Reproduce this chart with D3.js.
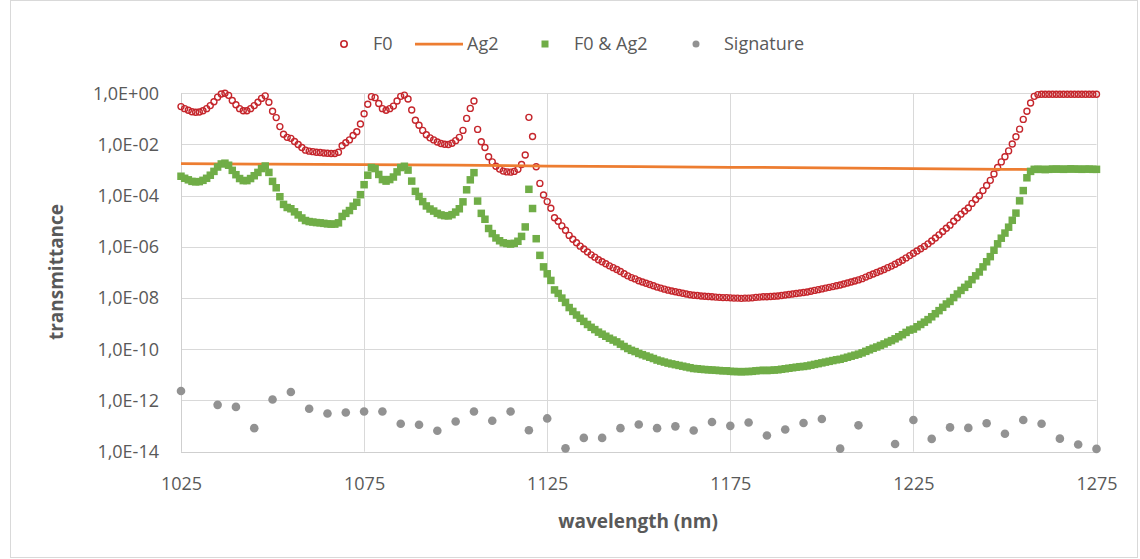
<!DOCTYPE html>
<html>
<head>
<meta charset="utf-8">
<script src="https://cdn.jsdelivr.net/npm/d3@7/dist/d3.min.js"></script>
<style>
  html, body { margin: 0; padding: 0; background: #ffffff; }
  svg { display: block; }
  text { font-family: "Open Sans", "Noto Sans", sans-serif; }
</style>
</head>
<body>
<svg id="chart" width="1140" height="559"></svg>
<script>
// ---------------- DATA ----------------
// wavelength grid of the F0 and F0 & Ag2 series: 1 nm steps, 1025..1275 nm
const wlStart = 1025;
const wlEnd = 1275;

// F0 transmittance, log10 values, one per nm from 1025 nm
const f0Log10 = [
  -0.52,-0.60,-0.66,-0.72,-0.74,-0.73,-0.68,-0.60,-0.48,-0.33,
  -0.15,-0.03, 0.00,-0.08,-0.28,-0.45,-0.60,-0.68,-0.68,-0.60,
  -0.48,-0.35,-0.20,-0.10,-0.35,-0.70,-0.95,-1.30,-1.60,-1.72,
  -1.76,-1.88,-2.00,-2.12,-2.22,-2.26,-2.28,-2.30,-2.31,-2.33,
  -2.34,-2.35,-2.35,-2.30,-2.05,-1.93,-1.82,-1.65,-1.50,-1.20,
  -0.80,-0.43,-0.13,-0.17,-0.40,-0.60,-0.66,-0.60,-0.50,-0.30,
  -0.12,-0.07,-0.22,-0.65,-1.05,-1.25,-1.45,-1.62,-1.74,-1.82,
  -1.90,-1.96,-1.99,-2.00,-1.95,-1.85,-1.72,-1.45,-0.98,-0.59,
  -0.30,-1.41,-1.89,-2.12,-2.48,-2.68,-2.85,-2.96,-3.04,-3.07,
  -3.08,-3.05,-2.97,-2.78,-2.41,-0.94,-1.69,-2.87,-3.52,-3.97,
  -4.23,-4.49,-4.86,-5.00,-5.18,-5.35,-5.55,-5.70,-5.84,-5.97,
  -6.08,-6.20,-6.31,-6.40,-6.50,-6.58,-6.66,-6.74,-6.81,-6.88,
  -6.96,-7.05,-7.13,-7.20,-7.25,-7.32,-7.37,-7.42,-7.47,-7.52,
  -7.57,-7.61,-7.65,-7.69,-7.72,-7.75,-7.78,-7.81,-7.84,-7.87,
  -7.89,-7.90,-7.92,-7.93,-7.94,-7.95,-7.96,-7.97,-7.98,-7.98,
  -7.99,-8.00,-8.00,-8.01,-8.00,-8.00,-7.99,-7.97,-7.96,-7.95,
  -7.95,-7.94,-7.93,-7.92,-7.90,-7.88,-7.86,-7.84,-7.82,-7.80,
  -7.78,-7.76,-7.73,-7.70,-7.67,-7.64,-7.61,-7.58,-7.55,-7.52,
  -7.49,-7.45,-7.41,-7.37,-7.33,-7.29,-7.24,-7.18,-7.12,-7.06,
  -7.00,-6.94,-6.88,-6.81,-6.75,-6.68,-6.60,-6.52,-6.43,-6.34,
  -6.25,-6.16,-6.07,-5.98,-5.88,-5.77,-5.65,-5.53,-5.40,-5.27,
  -5.15,-5.00,-4.86,-4.72,-4.60,-4.48,-4.30,-4.15,-4.00,-3.80,
  -3.60,-3.40,-3.15,-2.90,-2.68,-2.48,-2.25,-1.98,-1.70,-1.40,
  -1.02,-0.70,-0.38,-0.12,-0.05,-0.04,-0.04,-0.04,-0.04,-0.04,
  -0.04,-0.04,-0.04,-0.04,-0.04,-0.04,-0.04,-0.04,-0.04,-0.04,
  -0.04
];

// F0 & Ag2 transmittance, log10 values, one per nm from 1025 nm
const f0Ag2Log10 = [
  -3.24,-3.32,-3.38,-3.44,-3.46,-3.45,-3.40,-3.32,-3.20,-3.05,
  -2.88,-2.76,-2.73,-2.81,-3.01,-3.18,-3.33,-3.41,-3.41,-3.33,
  -3.22,-3.09,-2.94,-2.84,-3.09,-3.44,-3.69,-4.04,-4.34,-4.46,
  -4.51,-4.63,-4.75,-4.87,-4.97,-5.01,-5.03,-5.05,-5.06,-5.08,
  -5.10,-5.11,-5.11,-5.06,-4.81,-4.69,-4.58,-4.41,-4.26,-3.96,
  -3.57,-3.20,-2.90,-2.94,-3.17,-3.37,-3.43,-3.37,-3.27,-3.07,
  -2.90,-2.85,-3.00,-3.43,-3.83,-4.03,-4.23,-4.40,-4.52,-4.60,
  -4.69,-4.75,-4.78,-4.79,-4.74,-4.64,-4.51,-4.24,-3.77,-3.38,
  -3.10,-4.21,-4.69,-4.92,-5.28,-5.48,-5.65,-5.76,-5.84,-5.87,
  -5.89,-5.86,-5.78,-5.59,-5.22,-3.75,-4.50,-5.68,-6.33,-6.78,
  -7.05,-7.31,-7.68,-7.82,-8.00,-8.17,-8.37,-8.52,-8.66,-8.79,
  -8.91,-9.03,-9.14,-9.23,-9.33,-9.41,-9.49,-9.57,-9.64,-9.71,
  -9.80,-9.89,-9.97,-10.04,-10.09,-10.16,-10.21,-10.26,-10.31,-10.36,
  -10.42,-10.46,-10.50,-10.54,-10.57,-10.60,-10.63,-10.66,-10.69,-10.72,
  -10.75,-10.76,-10.78,-10.79,-10.80,-10.81,-10.82,-10.83,-10.84,-10.84,
  -10.86,-10.87,-10.87,-10.88,-10.87,-10.87,-10.86,-10.84,-10.83,-10.82,
  -10.83,-10.82,-10.81,-10.80,-10.78,-10.76,-10.74,-10.72,-10.70,-10.68,
  -10.67,-10.65,-10.62,-10.59,-10.56,-10.53,-10.50,-10.47,-10.44,-10.41,
  -10.39,-10.35,-10.31,-10.27,-10.23,-10.19,-10.14,-10.08,-10.02,-9.96,
  -9.91,-9.85,-9.79,-9.72,-9.66,-9.59,-9.51,-9.43,-9.34,-9.25,
  -9.21,-9.12,-9.03,-8.94,-8.84,-8.73,-8.61,-8.49,-8.36,-8.23,
  -8.13,-7.98,-7.84,-7.70,-7.58,-7.46,-7.28,-7.13,-6.98,-6.78,
  -6.58,-6.38,-6.13,-5.88,-5.66,-5.46,-5.23,-4.96,-4.68,-4.20,
  -3.80,-3.30,-3.05,-2.97,-2.97,-2.97,-2.98,-2.97,-2.96,-2.96,
  -2.96,-2.97,-2.96,-2.95,-2.96,-2.96,-2.97,-2.96,-2.96,-2.97,
  -2.97
];

// Ag2 transmittance (drawn as a line)
const ag2Wl    = [1025, 1050, 1075, 1100, 1125, 1150, 1175, 1200, 1225, 1250, 1275];
const ag2Log10 = [-2.75,-2.77,-2.79,-2.81,-2.84,-2.86,-2.89,-2.91,-2.94,-2.97,-2.99];

// Signature (gray dots), every 5 nm where visible
const sigWl = [1025,1035,1040,1045,1050,1055,1060,1065,1070,1075,1080,1085,1090,1095,1100,
               1105,1110,1115,1120,1125,1130,1135,1140,1145,1150,1155,1160,1165,1170,1175,
               1180,1185,1190,1195,1200,1205,1210,1220,1225,1230,1235,1240,1245,1250,1255,
               1260,1265,1270,1275];
const sigLog10 = [-11.63,-12.17,-12.25,-13.08,-11.96,-11.67,-12.32,-12.51,-12.47,-12.43,
                  -12.43,-12.91,-12.95,-13.18,-12.82,-12.43,-12.79,-12.43,-13.16,-12.70,
                  -13.87,-13.46,-13.46,-13.08,-12.94,-13.08,-13.01,-13.17,-12.84,-12.99,
                  -12.86,-13.37,-13.13,-12.88,-12.72,-13.88,-12.97,-13.70,-12.76,-13.50,
                  -13.05,-13.07,-12.89,-13.30,-12.76,-12.91,-13.49,-13.72,-13.89];

// axis ticks
const xTicks = [1025, 1075, 1125, 1175, 1225, 1275];
const yTickExponents = [0, -2, -4, -6, -8, -10, -12, -14];

const seriesNames = ["F0", "Ag2", "F0 & Ag2", "Signature"];

// ---------------- DRAWING ----------------
const svg = d3.select("#chart");
const plot = { left: 181, right: 1096.5, top: 93.3, bottom: 451.7 };

const x = d3.scaleLinear().domain([wlStart, wlEnd]).range([plot.left, plot.right]);
const y = d3.scaleLog().domain([1e-14, 1]).range([plot.bottom, plot.top]);

const colRed = "#c5262c", colOrange = "#ed7d31", colGreen = "#70ad47", colGray = "#929292";
const textCol = "#595959", gridCol = "#d9d9d9";

// chart border
svg.append("rect").attr("x", 10.5).attr("y", 0.5).attr("width", 1127).attr("height", 557)
  .attr("fill", "#fff").attr("stroke", "#d9d9d9").attr("stroke-width", 1);

const f0 = f0Log10.map((v, i) => ({ wl: wlStart + i, t: Math.pow(10, v) }));
const f0ag2 = f0Ag2Log10.map((v, i) => ({ wl: wlStart + i, t: Math.pow(10, v) }));
const ag2 = ag2Wl.map((w, i) => ({ wl: w, t: Math.pow(10, ag2Log10[i]) }));
const sig = sigWl.map((w, i) => ({ wl: w, t: Math.pow(10, sigLog10[i]) }));

// gridlines
const yTickVals = yTickExponents.map(e => Math.pow(10, e));
svg.append("g").selectAll("line").data(yTickVals).join("line")
  .attr("x1", plot.left).attr("x2", plot.right)
  .attr("y1", d => Math.round(y(d)) + 0.5).attr("y2", d => Math.round(y(d)) + 0.5)
  .attr("stroke", gridCol).attr("stroke-width", 1);
svg.append("g").selectAll("line").data(xTicks).join("line")
  .attr("y1", plot.top).attr("y2", plot.bottom)
  .attr("x1", d => Math.round(x(d)) + 0.5).attr("x2", d => Math.round(x(d)) + 0.5)
  .attr("stroke", gridCol).attr("stroke-width", 1);

// axes
const fmtExp = v => {
  const e = Math.round(Math.log10(v));
  const s = e >= 0 ? "+" : "-";
  return "1,0E" + s + String(Math.abs(e)).padStart(2, "0");
};
const yAxis = d3.axisLeft(y).tickValues(yTickVals).tickFormat(fmtExp).tickSize(0).tickPadding(22);
const gy = svg.append("g").attr("transform", `translate(${plot.left},0)`).call(yAxis);
gy.select(".domain").remove();
gy.selectAll("text").attr("fill", textCol).style("font-size", "18px");

const xAxis = d3.axisBottom(x).tickValues(xTicks).tickFormat(d3.format("d")).tickSize(0).tickPadding(26);
const gx = svg.append("g").attr("transform", `translate(0,${plot.bottom})`).call(xAxis);
gx.select(".domain").remove();
gx.selectAll("text").attr("fill", textCol).style("font-size", "18px");

// axis lines
svg.append("line").attr("x1", Math.round(plot.left) + 0.5).attr("x2", Math.round(plot.left) + 0.5)
  .attr("y1", plot.top).attr("y2", plot.bottom).attr("stroke", "#cfcfcf");
svg.append("line").attr("x1", plot.left).attr("x2", plot.right)
  .attr("y1", Math.round(plot.bottom) + 0.5).attr("y2", Math.round(plot.bottom) + 0.5).attr("stroke", "#cfcfcf");

// series: F0 (open red circles)
svg.append("g").selectAll("circle").data(f0).join("circle")
  .attr("cx", d => x(d.wl)).attr("cy", d => y(d.t)).attr("r", 3)
  .attr("fill", "none").attr("stroke", colRed).attr("stroke-width", 1.4);

// Ag2 (orange line)
svg.append("path").datum(ag2)
  .attr("d", d3.line().x(d => x(d.wl)).y(d => y(d.t)))
  .attr("fill", "none").attr("stroke", colOrange).attr("stroke-width", 2.75);

// F0 & Ag2 (green squares)
const sq = 7.5;
svg.append("g").selectAll("rect").data(f0ag2).join("rect")
  .attr("x", d => x(d.wl) - sq / 2).attr("y", d => y(d.t) - sq / 2)
  .attr("width", sq).attr("height", sq).attr("fill", colGreen);

// Signature (gray dots)
svg.append("g").selectAll("circle").data(sig).join("circle")
  .attr("cx", d => x(d.wl)).attr("cy", d => y(d.t)).attr("r", 4.3)
  .attr("fill", colGray);

// axis titles
svg.append("text").attr("transform", "translate(63,272) rotate(-90)")
  .attr("text-anchor", "middle").attr("fill", textCol)
  .style("font-size", "19px").style("font-weight", "bold").text("transmittance");
svg.append("text").attr("x", 638).attr("y", 528)
  .attr("text-anchor", "middle").attr("fill", textCol)
  .style("font-size", "19px").style("font-weight", "bold").text("wavelength (nm)");

// legend
const leg = svg.append("g").style("font-size", "18px").attr("fill", textCol);
const legY = 44;
leg.append("circle").attr("cx", 344).attr("cy", legY).attr("r", 3.2)
  .attr("fill", "none").attr("stroke", colRed).attr("stroke-width", 1.6);
leg.append("text").attr("x", 373).attr("y", legY).attr("dy", "0.35em").text(seriesNames[0]);
leg.append("line").attr("x1", 415).attr("x2", 463).attr("y1", legY).attr("y2", legY)
  .attr("stroke", colOrange).attr("stroke-width", 2.75);
leg.append("text").attr("x", 467).attr("y", legY).attr("dy", "0.35em").text(seriesNames[1]);
leg.append("rect").attr("x", 545 - 3.5).attr("y", legY - 3.5).attr("width", 7).attr("height", 7).attr("fill", colGreen);
leg.append("text").attr("x", 574).attr("y", legY).attr("dy", "0.35em").text(seriesNames[2]);
leg.append("circle").attr("cx", 696).attr("cy", legY).attr("r", 3.5).attr("fill", colGray);
leg.append("text").attr("x", 724).attr("y", legY).attr("dy", "0.35em").text(seriesNames[3]);
</script>
</body>
</html>
